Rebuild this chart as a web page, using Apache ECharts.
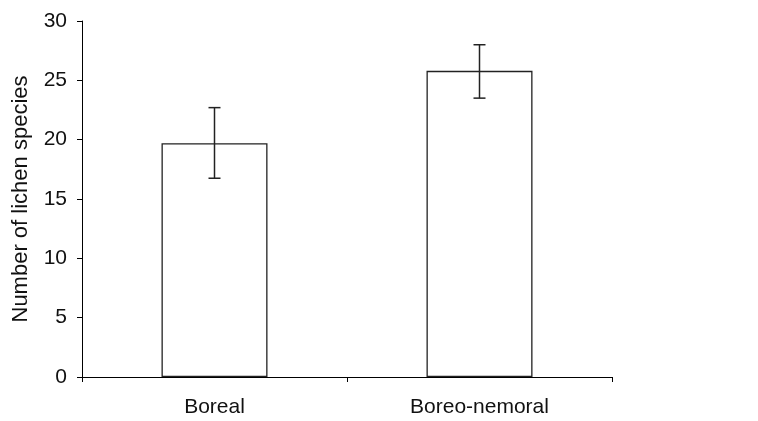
<!DOCTYPE html>
<html>
<head>
<meta charset="utf-8">
<script src="https://cdn.jsdelivr.net/npm/echarts@6/dist/echarts.min.js"></script>
<style>
  html, body { margin: 0; padding: 0; background: #fff; }
  #chart { width: 758px; height: 421px; }
</style>
</head>
<body>
<div id="chart"></div>
<script>
var categories = ['Boreal', 'Boreo-nemoral']
var means = [19.7, 25.8]
var errLow = [16.75, 23.5]
var errHigh = [22.7, 28.0]

var chart = echarts.init(document.getElementById('chart'))
var font = 'Liberation Sans'

var option = {
  backgroundColor: '#fff',
  animation: false,
  grid: { left: 82, right: 146, top: 21, bottom: 44 },
  xAxis: {
    type: 'category',
    data: categories,
    boundaryGap: true,
    axisLine: { lineStyle: { color: '#000', width: 1 } },
    axisTick: { show: true, length: 5, lineStyle: { color: '#000' } },
    axisLabel: { color: '#111', fontSize: 21, fontFamily: font, margin: 20 }
  },
  yAxis: {
    type: 'value',
    min: 0,
    max: 30,
    interval: 5,
    name: 'Number of lichen species',
    nameLocation: 'middle',
    nameGap: 50,
    nameTextStyle: { color: '#111', fontSize: 22, fontFamily: font },
    axisLine: { show: true, lineStyle: { color: '#000', width: 1 } },
    axisTick: { show: true, length: 5, lineStyle: { color: '#000' } },
    axisLabel: { color: '#111', fontSize: 21, fontFamily: font, margin: 15 },
    splitLine: { show: false }
  },
  series: [
    {
      type: 'bar',
      data: means,
      barWidth: '40%',
      itemStyle: { color: '#fff', borderColor: '#222', borderWidth: 1.3 }
    },
    {
      type: 'custom',
      data: categories.map(function (c, i) { return [i, errLow[i], errHigh[i]] }),
      z: 10,
      renderItem: function (params, api) {
        var x = api.coord([api.value(0), 0])[0]
        var lo = api.coord([api.value(0), api.value(1)])[1]
        var hi = api.coord([api.value(0), api.value(2)])[1]
        var hw = 6
        var st = { stroke: '#222', lineWidth: 1.5 }
        return {
          type: 'group',
          children: [
            { type: 'line', shape: { x1: x, y1: lo, x2: x, y2: hi }, style: st },
            { type: 'line', shape: { x1: x - hw, y1: lo, x2: x + hw, y2: lo }, style: st },
            { type: 'line', shape: { x1: x - hw, y1: hi, x2: x + hw, y2: hi }, style: st }
          ]
        }
      }
    }
  ]
}

chart.setOption(option)
</script>
</body>
</html>
